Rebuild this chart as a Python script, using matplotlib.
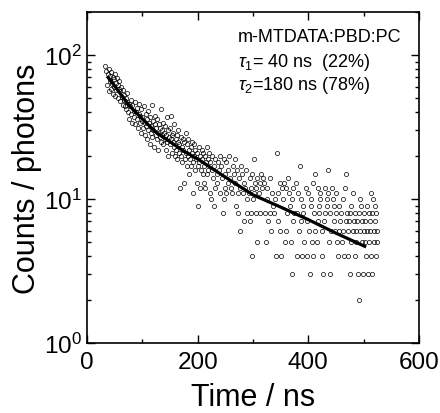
import matplotlib
matplotlib.use('Agg')
import matplotlib.pyplot as plt
from matplotlib.ticker import MultipleLocator, LogLocator, NullFormatter

plt.rcParams['font.family'] = ['Liberation Sans', 'DejaVu Sans']
plt.rcParams['mathtext.fontset'] = 'custom'
plt.rcParams['mathtext.rm'] = 'Liberation Sans'
plt.rcParams['mathtext.it'] = 'Liberation Sans:italic'

# photon counts, (time ns, counts)
time_ns = [
    33, 35, 36, 38, 39, 40, 41, 42, 43, 44, 45, 46, 47, 48, 49, 50, 51, 52, 53, 54,
    55, 56, 57, 58, 59, 60, 62, 63, 64, 65, 66, 67, 68, 70, 71, 72, 73, 74, 75, 76,
    78, 79, 80, 81, 82, 84, 85, 86, 87, 88, 90, 91, 92, 93, 94, 95, 96, 97, 98, 99,
    100, 101, 102, 104, 105, 106, 107, 108, 109, 110, 111, 112, 113, 114, 115, 116, 117, 118, 119, 120,
    121, 122, 123, 124, 125, 126, 127, 128, 129, 130, 131, 132, 133, 134, 135, 136, 137, 138, 139, 140,
    141, 142, 143, 144, 145, 146, 147, 148, 149, 150, 151, 152, 153, 154, 155, 156, 157, 158, 159, 160,
    161, 162, 163, 164, 165, 166, 167, 168, 169, 170, 171, 172, 173, 174, 175, 176, 177, 178, 179, 180,
    181, 182, 183, 184, 185, 186, 187, 188, 189, 190, 191, 192, 193, 194, 195, 196, 197, 198, 199, 200,
    201, 202, 203, 204, 205, 206, 207, 208, 209, 210, 211, 212, 213, 214, 215, 216, 217, 218, 219, 220,
    222, 223, 224, 225, 226, 228, 229, 230, 231, 232, 234, 235, 236, 238, 240, 241, 243, 244, 246, 247,
    248, 249, 250, 251, 252, 254, 255, 256, 258, 260, 262, 263, 265, 267, 268, 270, 271, 272, 273, 274,
    276, 277, 278, 280, 282, 283, 284, 286, 288, 289, 290, 292, 294, 295, 296, 297, 298, 299, 300, 301,
    302, 303, 305, 306, 307, 308, 310, 312, 313, 314, 316, 318, 320, 321, 323, 325, 326, 328, 330, 331,
    333, 335, 337, 338, 340, 341, 343, 345, 346, 348, 349, 351, 352, 355, 356, 358, 359, 360, 361, 363,
    365, 367, 368, 370, 371, 372, 373, 375, 377, 379, 380, 382, 384, 385, 386, 387, 388, 390, 391, 393,
    395, 397, 398, 400, 401, 403, 404, 405, 406, 408, 409, 410, 412, 413, 415, 417, 418, 419, 420, 421,
    422, 424, 425, 427, 428, 430, 431, 433, 434, 435, 436, 437, 439, 440, 441, 443, 445, 446, 447, 448,
    450, 451, 452, 454, 455, 456, 458, 460, 461, 462, 463, 464, 466, 468, 469, 470, 471, 472, 474, 475,
    476, 477, 478, 480, 481, 482, 484, 485, 486, 487, 488, 490, 491, 492, 493, 494, 496, 497, 498, 499,
    500, 501, 502, 503, 505, 506, 507, 508, 509, 510, 511, 512, 513, 514, 515, 516, 517, 518, 519, 520,
    521, 522, 523, 524, 525,
]
counts = [
    84, 78, 62, 74, 56, 80, 66, 72, 58, 76, 63, 70, 54, 68, 60, 74, 52, 64, 57, 69,
    50, 62, 58, 66, 48, 56, 60, 51, 45, 57, 49, 53, 44, 50, 42, 47, 55, 40, 46, 36,
    44, 49, 39, 34, 45, 41, 37, 47, 33, 40, 43, 36, 31, 39, 46, 34, 38, 29, 42, 35,
    37, 31, 44, 28, 34, 39, 32, 26, 36, 41, 30, 34, 24, 37, 29, 32, 45, 27, 35, 30,
    23, 33, 38, 28, 31, 26, 36, 29, 22, 33, 27, 31, 42, 25, 30, 28, 34, 24, 29, 26,
    32, 22, 28, 37, 25, 30, 20, 27, 24, 31, 26, 38, 21, 28, 25, 29, 23, 33, 20, 26,
    22, 28, 19, 25, 30, 21, 24, 12, 27, 20, 23, 18, 26, 22, 13, 25, 19, 29, 21, 17,
    24, 20, 26, 15, 22, 19, 23, 17, 25, 21, 18, 11, 20, 24, 16, 22, 19, 13, 21, 17,
    9, 23, 18, 12, 20, 16, 22, 19, 15, 21, 17, 13, 12, 20, 18, 23, 15, 19, 16, 21,
    11, 18, 10, 16, 20, 14, 9, 17, 12, 19, 15, 13, 18, 16, 11, 20, 17, 14, 8, 19,
    10, 15, 12, 18, 11, 16, 13, 20, 14, 12, 11, 17, 15, 19, 13, 9, 16, 11, 8, 14,
    12, 6, 17, 15, 11, 7, 13, 12, 16, 8, 10, 11, 14, 7, 12, 8, 4, 15, 10, 19,
    11, 13, 8, 12, 5, 14, 11, 13, 8, 15, 12, 14, 13, 8, 5, 10, 12, 7, 8, 14,
    6, 11, 9, 8, 10, 4, 21, 11, 7, 13, 6, 4, 12, 10, 13, 5, 6, 12, 8, 14,
    11, 9, 5, 3, 10, 12, 7, 8, 13, 4, 8, 11, 6, 17, 10, 7, 4, 8, 9, 5,
    12, 4, 7, 11, 6, 3, 10, 9, 5, 13, 4, 8, 15, 6, 5, 12, 7, 9, 8, 11,
    10, 6, 4, 3, 7, 12, 8, 10, 9, 11, 16, 5, 3, 8, 6, 12, 10, 9, 7, 6,
    11, 8, 5, 4, 9, 6, 7, 8, 5, 6, 10, 4, 12, 7, 15, 8, 6, 4, 7, 3,
    8, 9, 5, 6, 11, 7, 8, 4, 6, 5, 7, 3, 2, 8, 10, 6, 9, 5, 7, 3,
    8, 6, 5, 7, 4, 9, 6, 3, 8, 5, 7, 6, 11, 4, 8, 3, 10, 6, 5, 7,
    9, 4, 8, 6, 5,
]

# fitted biexponential curve
fit_t = [38, 50, 60, 75, 100, 125, 150, 175, 200, 250, 300, 350, 400, 450, 502]
fit_y = [70, 61, 54, 45, 36, 29, 25, 21.5, 19, 14.2, 10.7, 8.8, 7.2, 5.8, 4.7]

fig = plt.figure(figsize=(4.4, 4.14), dpi=100)
ax = fig.add_axes([0.198, 0.169, 0.754, 0.80])

ax.plot(time_ns, counts, 'o', ms=3.0, mfc='none', mec='black', mew=0.5)
ax.plot(fit_t, fit_y, '-', color='black', lw=2.3)

ax.set_yscale('log')
ax.set_xlim(0, 600)
ax.set_ylim(1, 200)
ax.xaxis.set_major_locator(MultipleLocator(200))
ax.xaxis.set_minor_locator(MultipleLocator(100))
ax.yaxis.set_major_locator(LogLocator(base=10, numticks=5))
ax.yaxis.set_minor_locator(LogLocator(base=10, subs=range(2, 10), numticks=20))
ax.yaxis.set_minor_formatter(NullFormatter())

ax.tick_params(which='both', direction='in', top=True, right=True, labelsize=17.5, width=1)
ax.tick_params(which='major', length=6)
ax.tick_params(which='minor', length=3)
ax.tick_params(axis='x', pad=6)
for s in ax.spines.values():
    s.set_linewidth(1.2)

ax.set_xlabel('Time / ns', fontsize=22, labelpad=6)
ax.set_ylabel('Counts / photons', fontsize=22, labelpad=2)

ax.text(0.455, 0.927, 'm-MTDATA:PBD:PC', transform=ax.transAxes, fontsize=13, va='center')
ax.text(0.455, 0.849, r'$\tau_1$= 40 ns  (22%)', transform=ax.transAxes, fontsize=13, va='center')
ax.text(0.455, 0.782, r'$\tau_2$=180 ns (78%)', transform=ax.transAxes, fontsize=13, va='center')

fig.savefig('out.png', dpi=100)
